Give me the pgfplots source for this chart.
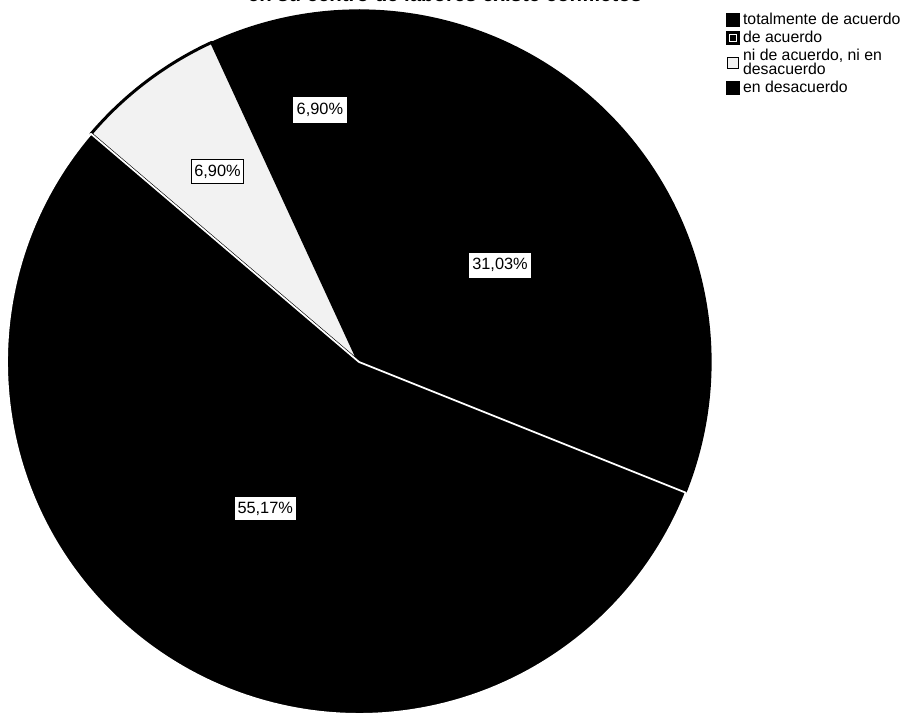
\documentclass[border=0pt]{standalone}
\usepackage{pgfplots}
\pgfplotsset{compat=1.18}
\usepackage{pgfplotstable}
\usepackage{fontspec}
\setmainfont{Liberation Sans}
\definecolor{lightslice}{gray}{0.95}

\pgfplotstableread{
pct   color      edge  lw   labr  labdang box
31.03 black      black 0.8  171   0.4     white
6.90  black      black 0.8  255   -3.5    white
6.90  lightslice black 1.7  237   -0.5    black
55.17 black      white 1.0  174   -1.5    black
}\piedata

\tikzset{lbl/.style={fill=white,line width=0.6pt,inner xsep=1.8pt,inner ysep=3pt,font=\fontsize{9.3}{10}\selectfont}}

\begin{document}
\begin{tikzpicture}
\begin{axis}[
  x=0.02cm, y=0.02cm,
  xmin=0, xmax=905, ymin=0, ymax=715,
  hide axis, clip=false,
  legend style={at={(axis cs:726,706)}, anchor=north west, draw=none, fill=none,
    font=\fontsize{9}{9}\selectfont, inner sep=0pt, row sep=-1.6pt,
    cells={anchor=west, align=left}},
  legend cell align=left,
]
\coordinate (SW) at (axis cs:0,0);
\coordinate (NE) at (axis cs:905,715);

\addlegendimage{legend image code/.code={\fill[black] (0cm,-0.13cm) rectangle (0.25cm,0.13cm);}}
\addlegendentry{totalmente de acuerdo}
\addlegendimage{legend image code/.code={\fill[black] (0cm,-0.13cm) rectangle (0.25cm,0.13cm);
  \draw[white,line width=0.5pt] (0.06cm,-0.07cm) rectangle (0.19cm,0.07cm);}}
\addlegendentry{de acuerdo}
\addlegendimage{legend image code/.code={\filldraw[fill=lightslice,draw=black,line width=0.7pt] (0.02cm,-0.11cm) rectangle (0.24cm,0.11cm);}}
\addlegendentry{ni de acuerdo, ni en\\[-1.5pt]desacuerdo}
\addlegendimage{legend image code/.code={\fill[black] (0cm,-0.13cm) rectangle (0.25cm,0.13cm);}}
\addlegendentry{en desacuerdo}

\pgfplotstablegetrowsof{\piedata}
\pgfmathtruncatemacro\Nrows{\pgfplotsretval-1}
% slices
\gdef\cumang{-21.8}
\pgfplotsforeachungrouped \i in {0,...,\Nrows}{%
  \pgfplotstablegetelem{\i}{pct}\of\piedata \let\pctval\pgfplotsretval
  \pgfplotstablegetelem{\i}{color}\of\piedata \let\slicecol\pgfplotsretval
  \pgfplotstablegetelem{\i}{edge}\of\piedata \let\edgecol\pgfplotsretval
  \pgfplotstablegetelem{\i}{lw}\of\piedata \let\edgelw\pgfplotsretval
  \pgfmathsetmacro\angA{\cumang}
  \pgfmathsetmacro\angB{\cumang+3.6*\pctval}
  \edef\temp{\noexpand\filldraw[fill=\slicecol,draw=\edgecol,line width=\edgelw pt,line join=round]
    (axis cs:359,353) -- ++(\angA:7.04cm) arc[start angle=\angA,end angle=\angB,radius=7.04cm] -- cycle;}
  \temp
  \global\let\cumang\angB
}
% labels
\gdef\cumang{-21.8}
\pgfplotsforeachungrouped \i in {0,...,\Nrows}{%
  \pgfplotstablegetelem{\i}{pct}\of\piedata \let\pctval\pgfplotsretval
  \pgfplotstablegetelem{\i}{labr}\of\piedata \let\labrad\pgfplotsretval
  \pgfplotstablegetelem{\i}{labdang}\of\piedata \let\labdang\pgfplotsretval
  \pgfplotstablegetelem{\i}{box}\of\piedata \let\boxcol\pgfplotsretval
  \pgfmathsetmacro\angA{\cumang}
  \pgfmathsetmacro\angB{\cumang+3.6*\pctval}
  \pgfmathsetmacro\angM{(\angA+\angB)/2+\labdang}
  \pgfmathsetmacro\lx{359+\labrad*cos(\angM)}
  \pgfmathsetmacro\ly{353+\labrad*sin(\angM)}
  \edef\temp{\noexpand\node[lbl,draw=\boxcol] at (axis cs:\lx,\ly)
    {\noexpand\pgfmathprintnumber[fixed,fixed zerofill,precision=2,use comma,assume math mode=true]{\pctval}\noexpand\%};}
  \temp
  \global\let\cumang\angB
}

\node[anchor=base, font=\bfseries\fontsize{11.6}{13}\selectfont] at (axis cs:445,713)
  {en su centro de labores existe conflictos};
\end{axis}
\pgfresetboundingbox
\path[use as bounding box] (SW) rectangle (NE);
\end{tikzpicture}
\end{document}
